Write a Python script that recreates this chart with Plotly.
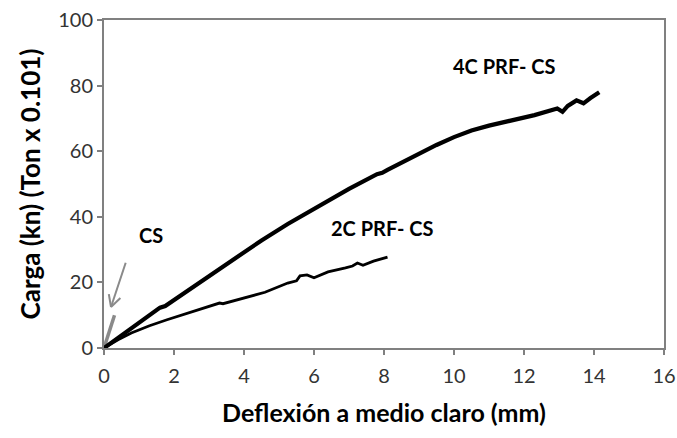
import math
import plotly.graph_objects as go

# Load–deflection curves (mid-span deflection in mm, load in kN)
x_4c = [0, 0.5, 1.0, 1.6, 1.75, 2.5, 3.5, 4.5, 5.25, 6.0, 7.0, 7.8, 7.95, 8.1, 9.0,
        9.5, 10.0, 10.5, 11.0, 11.7, 12.3, 12.95, 13.1, 13.25, 13.5, 13.7, 13.8, 13.9, 14.15]
y_4c = [0, 3.8, 7.6, 12.3, 12.8, 18.3, 25.6, 32.8, 37.8, 42.5, 48.5, 53.0, 53.4, 54.3, 59.3,
        61.9, 64.3, 66.3, 67.8, 69.5, 71.0, 73.0, 72.0, 73.8, 75.5, 74.6, 75.5, 76.2, 78.0]

x_2c = [0, 0.4, 0.78, 0.85, 1.3, 1.8, 2.5, 3.3, 3.4, 4.0, 4.6, 5.25, 5.5, 5.6, 5.8,
        6.0, 6.4, 6.9, 7.1, 7.24, 7.4, 7.7, 8.1]
y_2c = [0, 2.5, 4.6, 4.9, 6.8, 8.6, 11.0, 13.7, 13.5, 15.3, 17.0, 19.8, 20.5, 22.0, 22.3,
        21.4, 23.2, 24.4, 25.0, 25.9, 25.2, 26.5, 27.7]

x_cs = [0, 0.3]
y_cs = [0, 10]

# Arrow pointing at the CS curve: tail and head
arrow_tail = (0.62, 26)
arrow_head = (0.2, 12.5)

x_ticks = [0, 2, 4, 6, 8, 10, 12, 14, 16]
y_ticks = [0, 20, 40, 60, 80, 100]

X_RANGE = [0, 16]
Y_RANGE = [0, 100]
W, H = 677, 438
MARGIN = dict(l=104, r=13, t=20, b=90)

font_family = "Lato, 'Open Sans', sans-serif"
grey = "#8a8a8a"

# Open "V" arrowhead built in screen space, then mapped back to data units
px_x = (W - MARGIN["l"] - MARGIN["r"]) / (X_RANGE[1] - X_RANGE[0])
px_y = (H - MARGIN["t"] - MARGIN["b"]) / (Y_RANGE[1] - Y_RANGE[0])
dx = (arrow_tail[0] - arrow_head[0]) * px_x
dy = (arrow_tail[1] - arrow_head[1]) * px_y
ang = math.atan2(dy, dx)
barb_len, barb_ang = 13, math.radians(28)
arrow_x, arrow_y = [arrow_tail[0], arrow_head[0]], [arrow_tail[1], arrow_head[1]]
for s in (1, -1):
    a = ang + s * barb_ang
    arrow_x += [None, arrow_head[0], arrow_head[0] + barb_len * math.cos(a) / px_x]
    arrow_y += [None, arrow_head[1], arrow_head[1] + barb_len * math.sin(a) / px_y]

fig = go.Figure()
fig.add_trace(go.Scatter(x=x_cs, y=y_cs, mode="lines",
                         line=dict(color=grey, width=3.5), hoverinfo="skip"))
fig.add_trace(go.Scatter(x=arrow_x, y=arrow_y, mode="lines",
                         line=dict(color=grey, width=2), hoverinfo="skip"))
fig.add_trace(go.Scatter(x=x_2c, y=y_2c, mode="lines",
                         line=dict(color="black", width=2.8)))
fig.add_trace(go.Scatter(x=x_4c, y=y_4c, mode="lines",
                         line=dict(color="black", width=4.2)))

label_font = dict(family=font_family, size=20, color="black", weight="bold")
fig.add_annotation(x=1.35, y=34.5, text="CS", showarrow=False, font=label_font)
fig.add_annotation(x=7.95, y=36.5, text="2C PRF- CS", showarrow=False, font=label_font)
fig.add_annotation(x=11.45, y=86, text="4C PRF- CS", showarrow=False, font=label_font)

axis_common = dict(showgrid=False, zeroline=False, showline=True, linecolor="#808080",
                   linewidth=2, mirror=True, ticks="outside", ticklen=5, tickwidth=2,
                   tickcolor="#808080", ticklabeloverflow="allow", automargin=False,
                   tickfont=dict(family=font_family, size=20, color="#333333"))

fig.update_xaxes(range=X_RANGE, tickvals=x_ticks, ticklabelstandoff=4,
                 title=dict(text="Deflexión a medio claro (mm)", standoff=18,
                            font=dict(family=font_family, size=25, color="black",
                                      weight="bold")),
                 **axis_common)
fig.update_yaxes(range=Y_RANGE, tickvals=y_ticks,
                 title=dict(text="Carga (kn) (Ton x 0.101)", standoff=10,
                            font=dict(family=font_family, size=26, color="black",
                                      weight="bold")),
                 **axis_common)

fig.update_layout(width=W, height=H, showlegend=False,
                  paper_bgcolor="white", plot_bgcolor="white",
                  margin=MARGIN)

fig.write_html("out.html")
